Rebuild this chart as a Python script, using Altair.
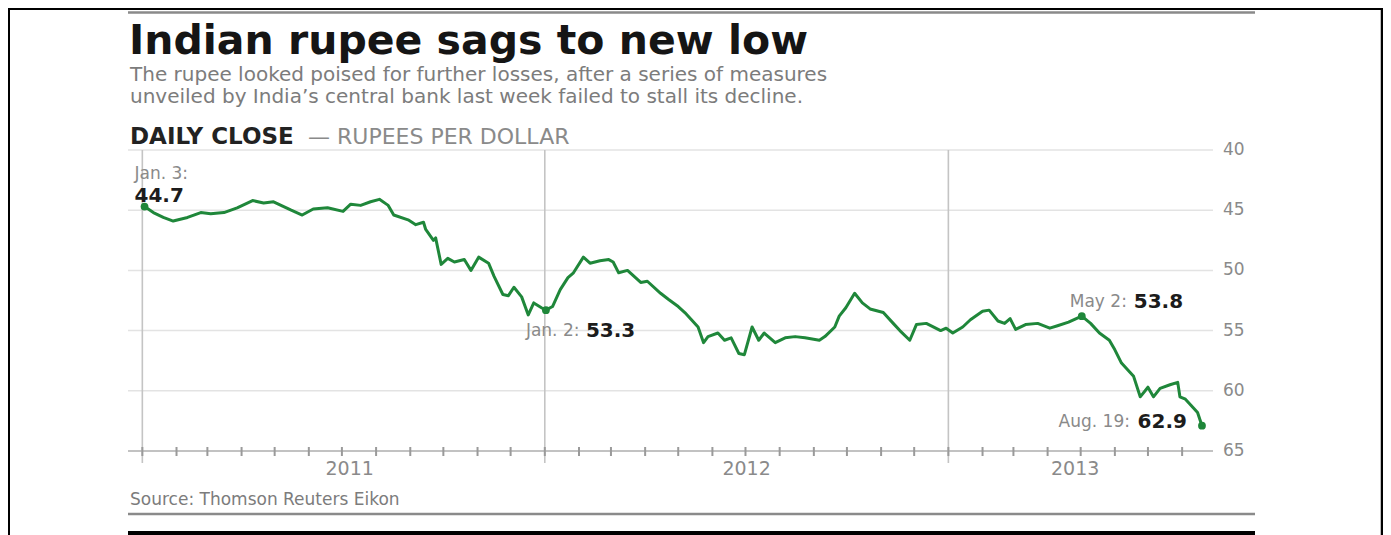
import altair as alt
import pandas as pd

# ---------------- data ----------------
dates = [
    "2011-01-03", "2011-01-11", "2011-01-20", "2011-01-29", "2011-02-11", "2011-02-23",
    "2011-03-04", "2011-03-16", "2011-03-28", "2011-04-11", "2011-04-21", "2011-04-30",
    "2011-05-16", "2011-05-26", "2011-06-05", "2011-06-18", "2011-07-02", "2011-07-09",
    "2011-07-18", "2011-07-27", "2011-08-04", "2011-08-12", "2011-08-17", "2011-08-30",
    "2011-09-06", "2011-09-13", "2011-09-15", "2011-09-22", "2011-09-24", "2011-09-29",
    "2011-10-05", "2011-10-11", "2011-10-20", "2011-10-26", "2011-11-02", "2011-11-11",
    "2011-11-16", "2011-11-24", "2011-11-29", "2011-12-04", "2011-12-11", "2011-12-17",
    "2011-12-22", "2011-12-29", "2012-01-02", "2012-01-08", "2012-01-15", "2012-01-22",
    "2012-01-27", "2012-02-05", "2012-02-11", "2012-02-20", "2012-02-28", "2012-03-03",
    "2012-03-08", "2012-03-16", "2012-03-28", "2012-04-03", "2012-04-15", "2012-04-22",
    "2012-05-01", "2012-05-07", "2012-05-19", "2012-05-24", "2012-05-28", "2012-06-06",
    "2012-06-12", "2012-06-18", "2012-06-25", "2012-06-30", "2012-07-07", "2012-07-13",
    "2012-07-18", "2012-07-28", "2012-08-06", "2012-08-15", "2012-08-24", "2012-09-06",
    "2012-09-11", "2012-09-20", "2012-09-24", "2012-09-30", "2012-10-08", "2012-10-15",
    "2012-10-22", "2012-11-03", "2012-11-12", "2012-11-18", "2012-11-27", "2012-12-03",
    "2012-12-12", "2012-12-25", "2012-12-30", "2013-01-05", "2013-01-14", "2013-01-21",
    "2013-02-01", "2013-02-07", "2013-02-15", "2013-02-21", "2013-02-26", "2013-03-03",
    "2013-03-12", "2013-03-23", "2013-04-03", "2013-04-10", "2013-04-20", "2013-05-02",
    "2013-05-10", "2013-05-18", "2013-05-27", "2013-06-01", "2013-06-07", "2013-06-13",
    "2013-06-18", "2013-06-24", "2013-07-01", "2013-07-06", "2013-07-12", "2013-07-21",
    "2013-07-28", "2013-07-30", "2013-08-04", "2013-08-09", "2013-08-15", "2013-08-19",
]
values = [
    44.7, 45.2, 45.6, 45.9, 45.6, 45.2,
    45.3, 45.2, 44.8, 44.2, 44.4, 44.3,
    45.0, 45.4, 44.9, 44.8, 45.1, 44.5,
    44.6, 44.3, 44.1, 44.6, 45.4, 45.8,
    46.2, 46.0, 46.6, 47.5, 47.3, 49.5,
    49.0, 49.3, 49.1, 50.0, 48.9, 49.4,
    50.5, 52.0, 52.1, 51.4, 52.2, 53.7,
    52.7, 53.1, 53.3, 53.0, 51.6, 50.6,
    50.2, 48.9, 49.4, 49.2, 49.1, 49.3,
    50.2, 50.0, 51.0, 50.9, 51.9, 52.4,
    53.0, 53.5, 54.7, 56.0, 55.5, 55.2,
    55.8, 55.6, 56.9, 57.0, 54.7, 55.8,
    55.2, 56.0, 55.6, 55.5, 55.6, 55.8,
    55.5, 54.7, 53.8, 53.1, 51.9, 52.7,
    53.2, 53.5, 54.4, 55.0, 55.8, 54.5,
    54.4, 55.0, 54.8, 55.2, 54.7, 54.1,
    53.4, 53.3, 54.2, 54.4, 54.0, 54.9,
    54.5, 54.4, 54.8, 54.6, 54.3, 53.8,
    54.4, 55.2, 55.8, 56.6, 57.7, 58.3,
    58.8, 60.5, 59.7, 60.5, 59.8, 59.5,
    59.3, 60.5, 60.7, 61.2, 61.8, 62.9,
]

ann_dates = ["2011-01-03", "2012-01-02", "2013-05-02", "2013-08-19"]
ann_values = [44.7, 53.3, 53.8, 62.9]
ann_labels = ["Jan. 3:", "Jan. 2:", "May 2:", "Aug. 19:"]
ann_numbers = ["44.7", "53.3", "53.8", "62.9"]

year_starts = ["2011-01-01", "2012-01-01", "2013-01-01"]
year_label_dates = ["2011-07-08", "2012-07-02", "2013-04-26"]
year_labels = ["2011", "2012", "2013"]
month_starts = [f"{y}-{m:02d}-01" for y in (2011, 2012, 2013) for m in range(1, 13)
                if not (y == 2013 and m > 8)]
y_ticks = [40, 45, 50, 55, 60, 65]

title_text = "Indian rupee sags to new low"
subtitle_lines = [
    "The rupee looked poised for further losses, after a series of measures",
    "unveiled by India\u2019s central bank last week failed to stall its decline.",
]
label_bold = "DAILY CLOSE"
label_unit = "\u2014 RUPEES PER DOLLAR"
source_text = "Source: Thomson Reuters Eikon"

# ---------------- layout / style ----------------
W, H = 1085, 301
FONT = "DejaVu Sans"
GREEN = "#1f873a"
DARK = "#1c1c1c"
GRAY = "#8a8a8a"
Y_TOP, Y_BOTTOM = 40, 65


def dt(s):
    y, m, d = map(int, s.split("-"))
    return alt.DateTime(year=y, month=m, date=d, utc=True)


xscale = alt.Scale(domain=[dt("2010-12-19"), dt("2013-08-29")])
yscale = alt.Scale(domain=[Y_TOP, Y_BOTTOM], reverse=True, nice=False, zero=False)

df = pd.DataFrame({"date": dates, "value": values})
ann_df = pd.DataFrame({"date": ann_dates, "value": ann_values,
                       "label": ann_labels, "number": ann_numbers})


def X(field="date:T"):
    return alt.X(field, scale=xscale, axis=None)


def Y(field="value:Q"):
    return alt.Y(field, scale=yscale, axis=None)


# y gridlines and right-hand labels (drawn through the y scale)
ticks_df = pd.DataFrame({"v": y_ticks})
grid = alt.Chart(ticks_df).mark_rule(color="#e3e3e3", strokeWidth=1.5).encode(
    y=Y("v:Q"), x=alt.value(0), x2=alt.value(W))
y_labels = alt.Chart(ticks_df).mark_text(
    align="left", baseline="middle", dx=10, font=FONT, fontSize=17, color=GRAY
).encode(y=Y("v:Q"), x=alt.value(W), text=alt.Text("v:Q"))

# x baseline, year lines, month ticks, year labels
base_df = pd.DataFrame({"bottom": [Y_BOTTOM]})
baseline = alt.Chart(base_df).mark_rule(color="#b5b5b5", strokeWidth=1.5).encode(
    y=Y("bottom:Q"), x=alt.value(0), x2=alt.value(W))

years_df = pd.DataFrame({"date": year_starts,
                         "top": [Y_TOP] * len(year_starts),
                         "bottom": [Y_BOTTOM] * len(year_starts)})
year_rules = alt.Chart(years_df).mark_rule(color="#c4c4c4", strokeWidth=1.6, y2Offset=12).encode(
    x=X(), y=Y("top:Q"), y2="bottom:Q")

months_df = pd.DataFrame({"date": month_starts,
                          "bottom": [Y_BOTTOM] * len(month_starts)})
month_ticks = alt.Chart(months_df).mark_rule(color="#9a9a9a", strokeWidth=2,
                                             yOffset=-4, y2Offset=5).encode(
    x=X(), y=Y("bottom:Q"), y2="bottom:Q")

ylab_df = pd.DataFrame({"date": year_label_dates, "label": year_labels,
                        "bottom": [Y_BOTTOM] * len(year_labels)})
x_labels = alt.Chart(ylab_df).mark_text(
    align="center", baseline="top", dy=9, font=FONT, fontSize=19, color=GRAY
).encode(x=X(), y=Y("bottom:Q"), text="label:N")

line = alt.Chart(df).mark_line(color=GREEN, strokeWidth=3, strokeJoin="round").encode(
    x=X(), y=Y())

points = alt.Chart(ann_df).mark_point(filled=True, color=GREEN, size=60, opacity=1).encode(
    x=X(), y=Y())


def ann(i, field, dx, dy, align, bold):
    return alt.Chart(ann_df.iloc[[i]]).mark_text(
        dx=dx, dy=dy, align=align, baseline="middle", font=FONT,
        fontSize=20 if bold else 17,
        fontWeight="bold" if bold else "normal",
        color=DARK if bold else GRAY,
    ).encode(x=X(), y=Y(), text=f"{field}:N")


annotations = [
    ann(0, "label", -10, -33, "left", False),
    ann(0, "number", -10, -11, "left", True),
    ann(1, "label", -20, 21, "left", False),
    ann(1, "number", 40, 21, "left", True),
    ann(2, "label", -12, -14, "left", False),
    ann(2, "number", 52, -14, "left", True),
    ann(3, "label", -72, -4, "right", False),
    ann(3, "number", -15, -4, "right", True),
]


def static_text(txt, x, y, size, color, bold=False):
    return alt.Chart(pd.DataFrame({"t": [txt]})).mark_text(
        align="left", baseline="alphabetic", font=FONT, fontSize=size,
        fontWeight="bold" if bold else "normal", color=color,
    ).encode(x=alt.value(x), y=alt.value(y), text="t:N")


texts = [
    static_text(title_text, 1, -96, 41, "#151515", bold=True),
    static_text(subtitle_lines[0], 2, -69, 20, "#7c7c7c"),
    static_text(subtitle_lines[1], 2, -47, 20, "#7c7c7c"),
    static_text(label_bold, 2, -6, 23, "#222222", bold=True),
    static_text(label_unit, 180, -6, 22, "#8a8a8a"),
    static_text(source_text, 2, 355, 17, "#7c7c7c"),
]


def hrule(x1, x2, y, color, width):
    return alt.Chart(pd.DataFrame({"k": [0]})).mark_rule(color=color, strokeWidth=width).encode(
        x=alt.value(x1), x2=alt.value(x2), y=alt.value(y))


def vrule(x, y1, y2, color, width):
    return alt.Chart(pd.DataFrame({"k": [0]})).mark_rule(color=color, strokeWidth=width).encode(
        x=alt.value(x), y=alt.value(y1), y2=alt.value(y2))


frame = [
    hrule(-120, 1255, -141, "#000000", 2),
    vrule(-119, -142, 385, "#000000", 2),
    vrule(1254, -142, 385, "#000000", 2.5),
    hrule(0, 1127, -137.5, "#8a8a8a", 2.5),
    hrule(0, 1127, 364, "#8a8a8a", 2.5),
    hrule(0, 1127, 383, "#000000", 4),
]

chart = alt.layer(
    grid, baseline, *frame, year_rules, month_ticks, y_labels, x_labels,
    line, points, *annotations, *texts
).properties(
    width=W, height=H,
    autosize=alt.AutoSizeParams(type="none"),
    padding={"left": 120, "top": 142, "right": 170, "bottom": 84},
    background="white",
).configure_view(strokeWidth=0, stroke="transparent")

chart.save("out.html", embed_options={"renderer": "svg", "actions": False})
